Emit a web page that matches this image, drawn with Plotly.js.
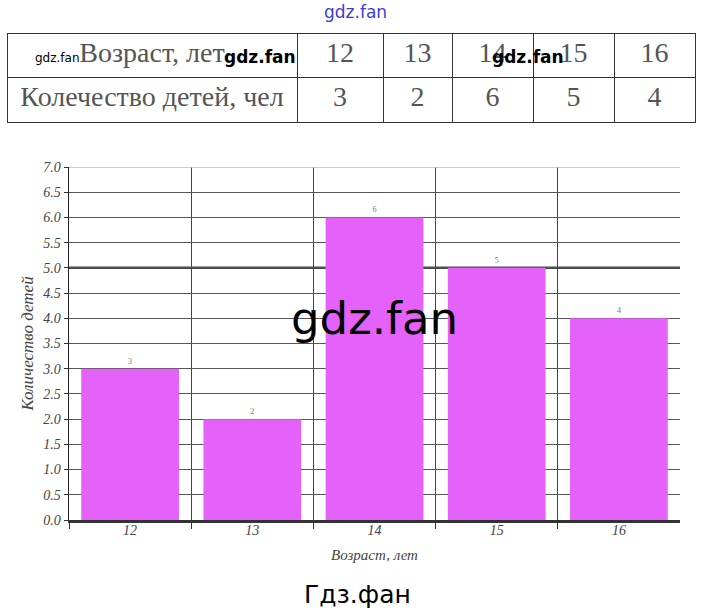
<!DOCTYPE html>
<html>
<head>
<meta charset="utf-8">
<script src="https://cdn.plot.ly/plotly-3.0.1.min.js"></script>
<style>html,body{margin:0;padding:0;background:#fff;}#chart{width:709px;height:613px;}</style>
</head>
<body>
<div id="chart"></div>
<script>
// ---- data ----
const ages = ["12", "13", "14", "15", "16"];
const children = [3, 2, 6, 5, 4];
const rowHeader1 = "Возраст, лет";
const rowHeader2 = "Колечество детей, чел";
const xTitle = "Возраст, лет";
const yTitle = "Количество детей";
const yTickVals = [0, 0.5, 1, 1.5, 2, 2.5, 3, 3.5, 4, 4.5, 5, 5.5, 6, 6.5, 7];

// ---- geometry helpers (pixel -> paper) ----
const W = 709, H = 613;
const M = {l: 7, r: 14, t: 33, b: 93};
const PW = W - M.l - M.r, PH = H - M.t - M.b;
const px = x => (x - M.l) / PW;
const py = y => (H - M.b - y) / PH;

const serif = "Liberation Serif, DejaVu Serif, serif";
const tableFont = {family: serif, size: 28, color: "#555"};

const tableTrace = {
  type: "table",
  domain: {x: [0, 1], y: [py(125), 1]},
  columnwidth: [290, 86, 69, 81, 81, 81],
  header: {
    values: [rowHeader1].concat(ages),
    align: "center",
    height: 44,
    line: {color: "#333", width: 1},
    fill: {color: "#fff"},
    font: tableFont
  },
  cells: {
    values: [[rowHeader2]].concat(children.map(v => [String(v)])),
    align: "center",
    height: 45,
    line: {color: "#333", width: 1},
    fill: {color: "#fff"},
    font: tableFont
  }
};

const barTrace = {
  type: "bar",
  x: ages,
  y: children,
  xaxis: "x",
  yaxis: "y",
  marker: {color: "#e462f9", line: {width: 0}},
  text: children.map(String),
  textposition: "outside",
  textfont: {family: serif, size: 8, color: "#777"},
  cliponaxis: false,
  hoverinfo: "x+y"
};

const wm = (x, y, text, size, color, extra) => Object.assign({
  xref: "paper", yref: "paper", x: px(x), y: py(y), text: text,
  showarrow: false, xanchor: "center", yanchor: "middle",
  font: {family: "DejaVu Sans, sans-serif", size: size, color: color}
}, extra || {});

const layout = {
  width: W, height: H,
  margin: M,
  paper_bgcolor: "#fff",
  plot_bgcolor: "#fff",
  showlegend: false,
  bargap: 0.2,
  xaxis: {
    domain: [px(69), px(680)],
    type: "category",
    tickson: "boundaries",
    showgrid: true,
    gridcolor: "#444",
    gridwidth: 1,
    ticks: "outside",
    ticklen: 6,
    tickcolor: "#333",
    tickangle: 0,
    ticklabelstandoff: -4,
    showline: true,
    linecolor: "#333",
    linewidth: 2.5,
    tickfont: {family: serif, size: 14, color: "#444", style: "italic"},
    title: {text: xTitle, standoff: 12, font: {family: serif, size: 15, color: "#444", style: "italic"}},
    fixedrange: true
  },
  yaxis: {
    domain: [0, py(167)],
    range: [0, 7],
    tickvals: yTickVals,
    tickformat: ".1f",
    showgrid: true,
    gridcolor: "#555",
    gridwidth: 1,
    zeroline: false,
    ticks: "outside",
    ticklen: 4,
    tickcolor: "#333",
    showline: true,
    linecolor: "#222",
    linewidth: 1.5,
    tickfont: {family: serif, size: 14, color: "#444", style: "italic"},
    title: {text: yTitle, standoff: 4, font: {family: serif, size: 17, color: "#444", style: "italic"}},
    fixedrange: true
  },
  shapes: [
    {type: "line", xref: "x domain", yref: "y", x0: 0, x1: 1, y0: 5, y1: 5, line: {color: "#444", width: 2.5}, layer: "below"},
    {type: "line", xref: "x domain", yref: "y", x0: 0, x1: 1, y0: 7, y1: 7, line: {color: "#bbb", width: 1.5}, layer: "above"}
  ],
  annotations: [
    wm(355, 12, "gdz.fan", 17, "#3b3bd6"),
    wm(57, 58, "gdz.fan", 12, "#000"),
    wm(260, 57, "<b>gdz.fan</b>", 17, "#000"),
    wm(528, 57, "<b>gdz.fan</b>", 17, "#000"),
    wm(375, 318, "gdz.fan", 45, "#000"),
    wm(357, 594, "Гдз.фан", 25, "#000")
  ]
};

Plotly.newPlot("chart", [tableTrace, barTrace], layout, {displayModeBar: false, staticPlot: true});
</script>
</body>
</html>
